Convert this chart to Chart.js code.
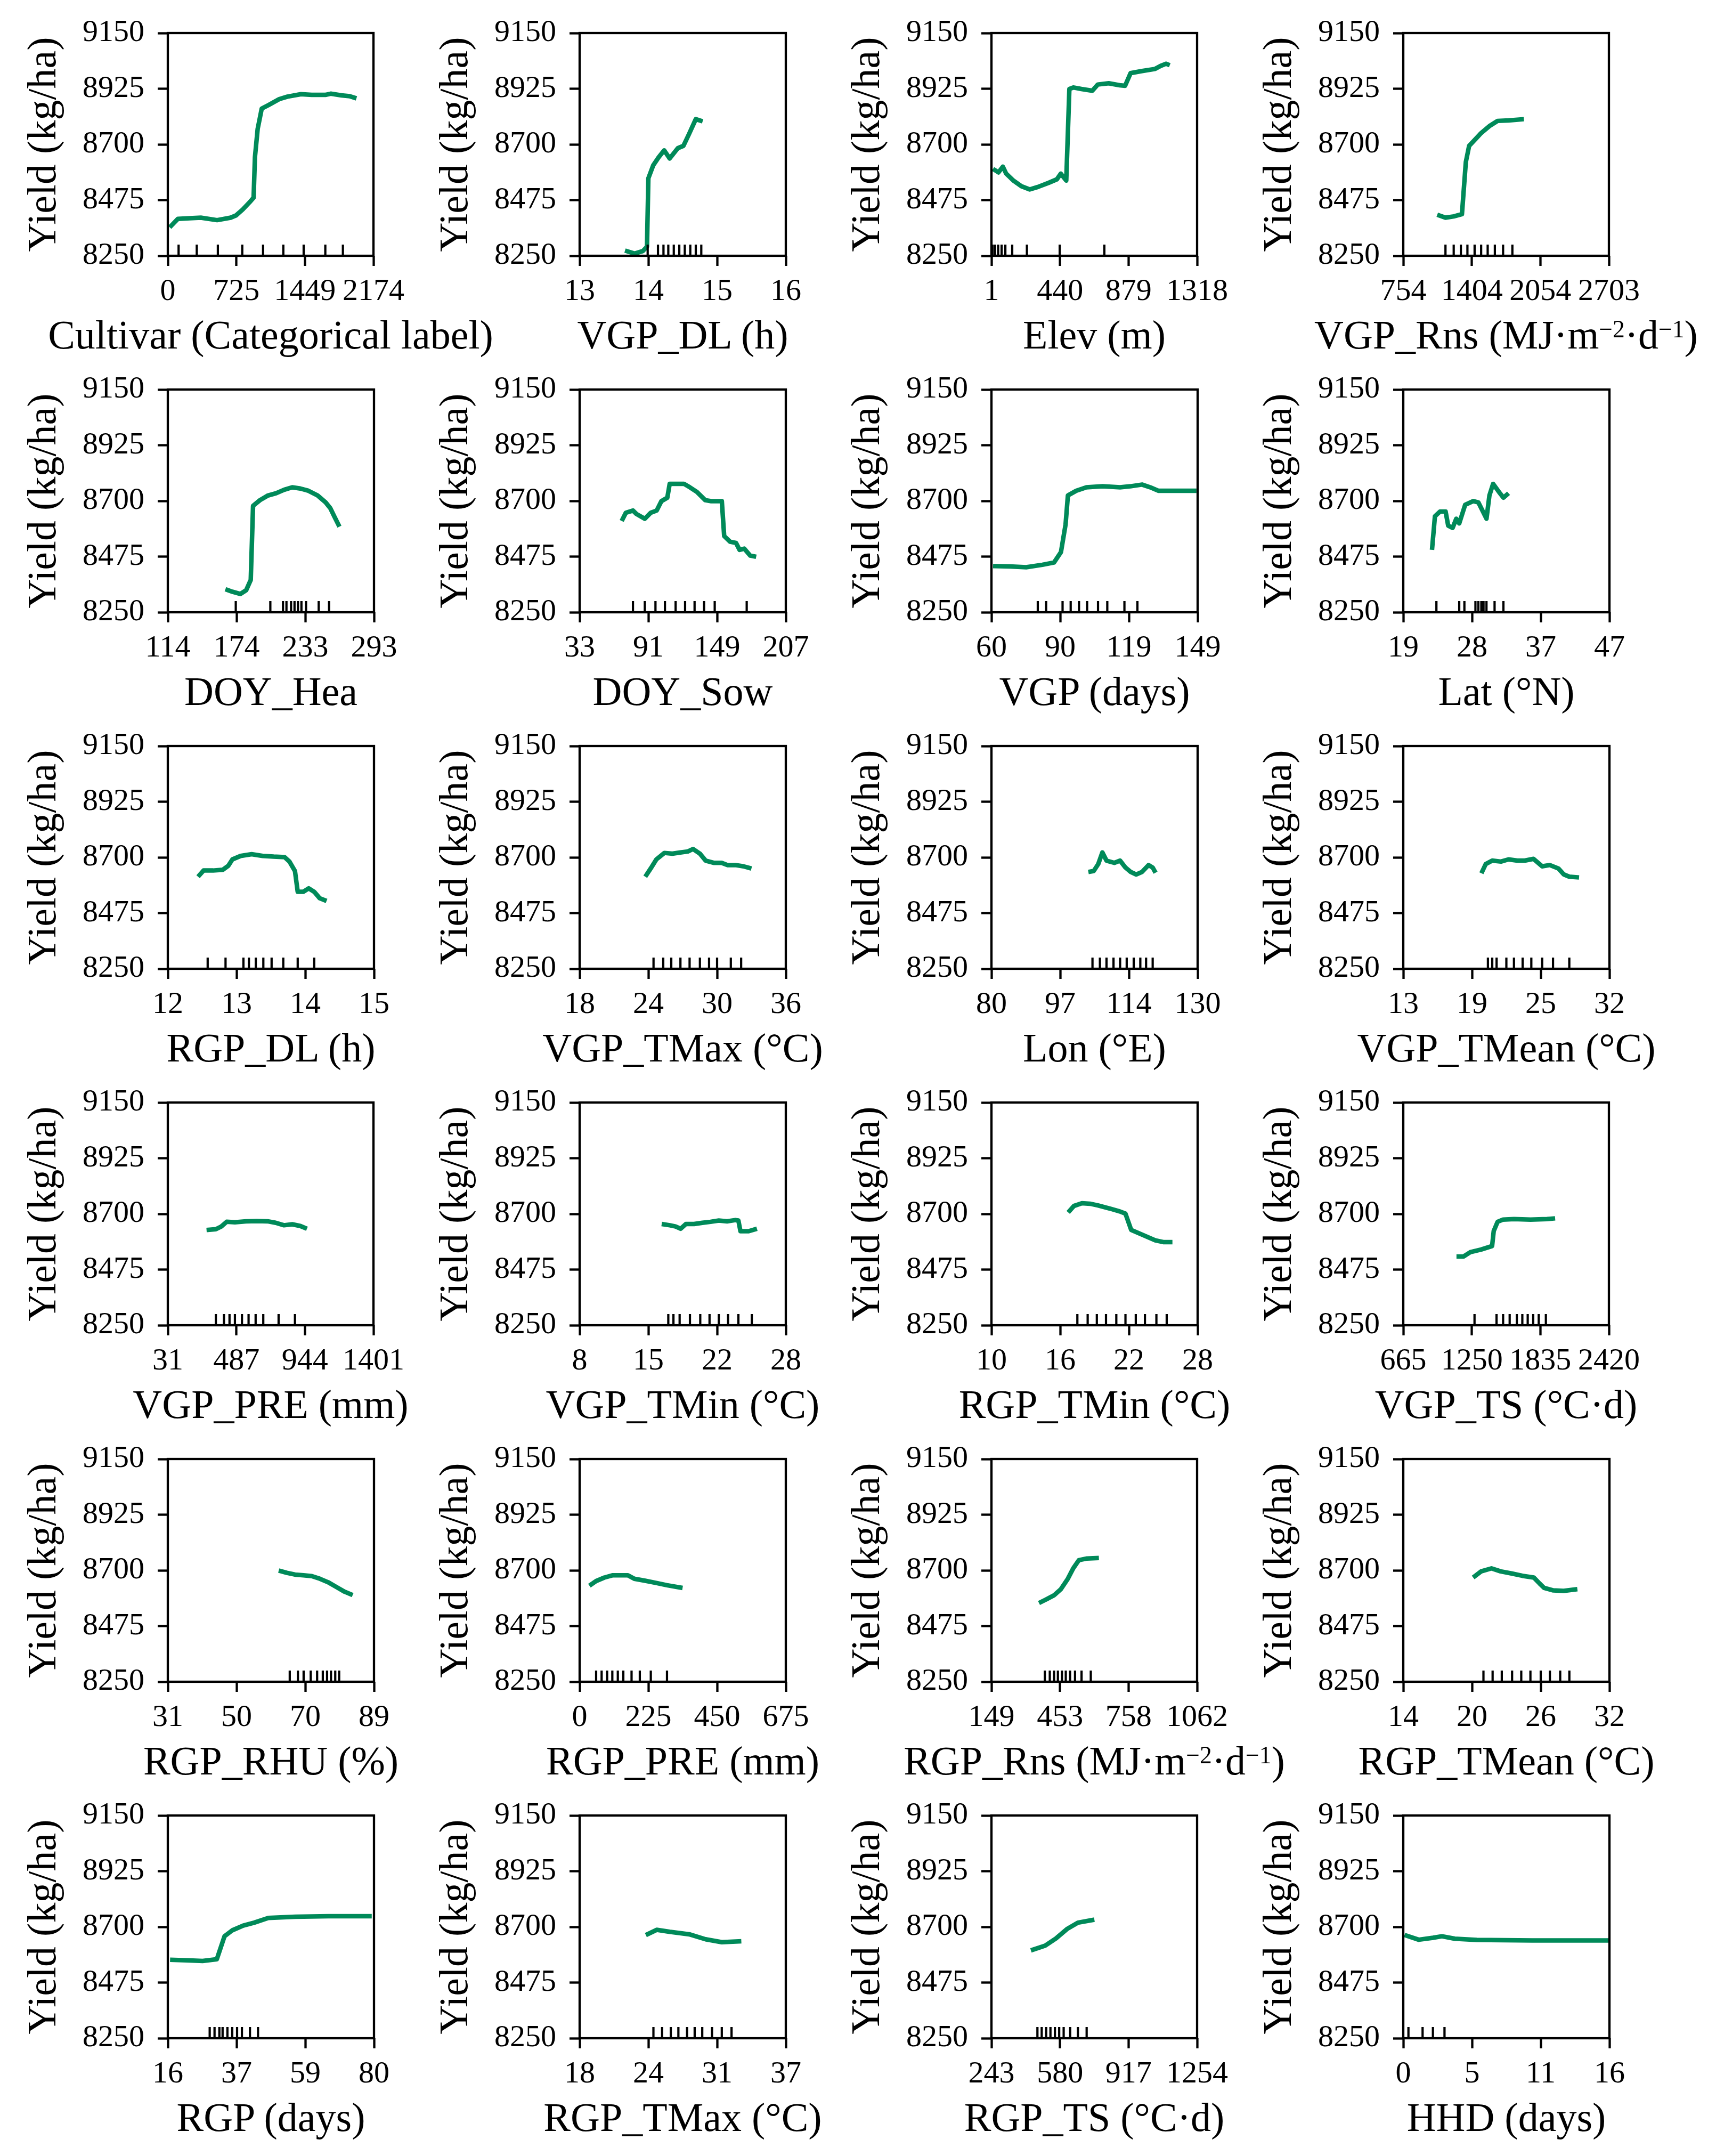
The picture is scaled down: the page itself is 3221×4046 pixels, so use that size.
<!DOCTYPE html>
<html>
<head>
<meta charset="utf-8">
<script src="https://cdn.jsdelivr.net/npm/chart.js@4.4.1/dist/chart.umd.min.js"></script>
<style>
  body { margin: 0; background: #fff; width: 3221px; height: 4046px; position: relative; overflow: hidden; font-family: 'Liberation Serif', serif; }
  canvas { position: absolute; }
  .xt { position: absolute; font-family: 'Liberation Serif', serif; font-size: 76px; line-height: 76px; white-space: nowrap; color: #000; transform: translateX(-50%); }
  .sp { position: relative; top: -0.45em; font-size: 0.6em; }
  #warm { position: absolute; left: -2000px; top: 0; font-family: 'Liberation Serif'; font-size: 58px; }
</style>
</head>
<body>
<div id="warm">0123456789 Yield (kg/ha)</div>
<script>
// partial dependence curves (x, yield in kg/ha) + decile rug + axis tick labels
var cultivarX = [20, 106, 235, 349, 521, 664, 721, 792, 864, 907, 921, 950, 993, 1064, 1178, 1264, 1407, 1521, 1665, 1722, 1837, 1922, 1994];
var cultivarY = [8365, 8399, 8402, 8404, 8394, 8404, 8413, 8437, 8466, 8485, 8648, 8763, 8845, 8859, 8883, 8893, 8903, 8900, 8900, 8905, 8898, 8895, 8886];
var cultivarRug = [114, 306, 529, 787, 1007, 1221, 1436, 1665, 1851];
var cultivarTicks = [0, 725, 1449, 2174];

var vgpDlX = [13.66, 13.80, 13.92, 13.98, 14.00, 14.07, 14.15, 14.23, 14.31, 14.43, 14.51, 14.59, 14.69, 14.79];
var vgpDlY = [8271, 8259, 8269, 8287, 8563, 8615, 8648, 8676, 8643, 8685, 8694, 8741, 8802, 8793];
var vgpDlRug = [13.99, 14.14, 14.22, 14.29, 14.37, 14.45, 14.53, 14.61, 14.69, 14.77];
var vgpDlTicks = [13, 14, 15, 16];

var elevX = [11, 46, 74, 95, 141, 193, 246, 298, 368, 420, 445, 480, 500, 525, 577, 647, 682, 752, 822, 857, 892, 961, 1049, 1084, 1119, 1143];
var elevY = [8601, 8587, 8610, 8582, 8554, 8531, 8518, 8528, 8545, 8559, 8582, 8554, 8924, 8930, 8924, 8917, 8942, 8947, 8939, 8937, 8988, 8996, 9005, 9017, 9026, 9020];
var elevRug = [8, 24, 44, 66, 90, 134, 228, 438, 724];
var elevTicks = [1, 440, 879, 1318];

var vgpRnsX = [1076, 1154, 1232, 1310, 1347, 1378, 1440, 1492, 1570, 1648, 1752, 1897];
var vgpRnsY = [8416, 8404, 8409, 8418, 8629, 8694, 8722, 8746, 8774, 8795, 8797, 8802];
var vgpRnsRug = [1154, 1232, 1300, 1362, 1430, 1492, 1554, 1622, 1700, 1788];
var vgpRnsTicks = [754, 1404, 2054, 2703];

var doyHeaX = [164, 170, 177, 182, 186, 188, 194, 201, 208, 215, 222, 229, 236, 244, 251, 255, 259, 263];
var doyHeaY = [8343, 8333, 8324, 8339, 8381, 8680, 8703, 8722, 8731, 8745, 8755, 8750, 8741, 8722, 8694, 8671, 8633, 8596];
var doyHeaRug = [173, 203, 214, 217, 221, 224, 227, 230, 234, 245, 254];
var doyHeaTicks = [114, 174, 233, 293];

var doySowX = [68.5, 72, 78, 81, 88, 93, 98, 102, 107, 109, 121, 126, 132, 139, 144, 153, 155, 160, 165, 168, 172, 177, 182];
var doySowY = [8619, 8652, 8661, 8647, 8628, 8652, 8661, 8699, 8713, 8769, 8769, 8755, 8736, 8703, 8699, 8699, 8558, 8535, 8530, 8502, 8507, 8479, 8474];
var doySowRug = [78, 88, 97, 105, 114, 122, 130, 138, 147, 174];
var doySowTicks = [33, 91, 149, 207];

var vgpX = [60.7, 68, 75, 82, 87, 90, 92, 93, 96.6, 101, 108, 115.5, 120, 125, 128.5, 132, 139, 148.5];
var vgpY = [8437, 8435, 8432, 8442, 8451, 8493, 8605, 8722, 8741, 8755, 8759, 8755, 8759, 8766, 8755, 8741, 8741, 8741];
var vgpRug = [80, 83.6, 90.7, 94.2, 97.8, 101.3, 106, 110, 117.4, 123];
var vgpTicks = [60, 90, 119, 149];

var latX = [22.9, 23.3, 24, 24.75, 25.1, 25.7, 26.2, 26.6, 27.4, 28.5, 29.2, 30.3, 30.7, 31.2, 32, 32.6, 33.3];
var latY = [8502, 8638, 8657, 8657, 8600, 8591, 8628, 8609, 8684, 8699, 8694, 8628, 8722, 8769, 8736, 8713, 8731];
var latRug = [23.5, 26.6, 27.3, 28.8, 29.2, 29.6, 29.9, 30.3, 31.4, 32.6];
var latTicks = [19, 28, 37, 47];

var rgpDlX = [12.44, 12.52, 12.66, 12.8, 12.88, 12.94, 13.06, 13.22, 13.38, 13.54, 13.7, 13.77, 13.85, 13.89, 13.97, 14.05, 14.13, 14.21, 14.31];
var rgpDlY = [8622, 8647, 8647, 8650, 8666, 8692, 8706, 8713, 8706, 8703, 8701, 8683, 8645, 8561, 8561, 8575, 8561, 8535, 8524];
var rgpDlRug = [12.58, 12.84, 13.1, 13.18, 13.28, 13.39, 13.51, 13.68, 13.89, 14.13];
var rgpDlTicks = [12, 13, 14, 15];

var vgpTmaxX = [23.73, 24.2, 24.7, 25.4, 26.1, 26.8, 27.45, 27.9, 28.5, 29, 29.7, 30.4, 30.9, 31.6, 32.3, 33.0];
var vgpTmaxY = [8622, 8655, 8692, 8718, 8715, 8720, 8724, 8734, 8715, 8687, 8678, 8678, 8669, 8669, 8664, 8655];
var vgpTmaxRug = [24.45, 25.3, 26.0, 26.8, 27.6, 28.5, 29.3, 30.0, 31.2, 32.1];
var vgpTmaxTicks = [18, 24, 30, 36];

var lonX = [103.5, 104.8, 105.9, 106.9, 107.9, 109.8, 111.2, 112.5, 113.8, 115.1, 116.5, 118.1, 119.1, 119.8];
var lonY = [8641, 8645, 8673, 8720, 8687, 8678, 8687, 8659, 8641, 8631, 8641, 8669, 8659, 8638];
var lonRug = [104.5, 106.3, 107.9, 109.6, 111.2, 112.8, 114.5, 116.1, 117.5, 119.1];
var lonTicks = [80, 97, 114, 130];

var vgpTmeanX = [20.2, 20.6, 21.2, 22.0, 22.7, 23.5, 24.2, 25.0, 25.8, 26.5, 27.3, 27.8, 28.3, 29.2];
var vgpTmeanY = [8636, 8673, 8687, 8683, 8692, 8687, 8687, 8694, 8664, 8669, 8655, 8631, 8622, 8619];
var vgpTmeanRug = [20.8, 21.2, 21.6, 22.5, 23.2, 24.0, 24.8, 25.8, 26.8, 28.3];
var vgpTmeanTicks = [13, 19, 25, 32];

var vgpPreX = [289, 351, 387, 423, 478, 551, 623, 696, 750, 805, 860, 914, 958];
var vgpPreY = [8635, 8638, 8649, 8668, 8666, 8670, 8671, 8670, 8664, 8654, 8658, 8651, 8640];
var vgpPreRug = [351, 405, 442, 478, 525, 569, 616, 667, 769, 878];
var vgpPreTicks = [31, 487, 944, 1401];

var vgpTminX = [15.96, 16.75, 17.3, 17.8, 18.3, 19.1, 19.9, 20.7, 21.5, 22.3, 23.1, 23.4, 23.6, 24.4, 25.2];
var vgpTminY = [8659, 8654, 8649, 8640, 8659, 8659, 8664, 8668, 8673, 8670, 8675, 8673, 8630, 8630, 8640];
var vgpTminRug = [16.6, 17.1, 17.7, 18.7, 19.7, 20.6, 21.5, 22.4, 23.4, 24.7];
var vgpTminTicks = [8, 15, 22, 28];

var rgpTminX = [16.7, 17.2, 17.9, 18.6, 19.3, 20.3, 21.2, 21.7, 22.2, 22.9, 23.6, 24.3, 25.0, 25.8];
var rgpTminY = [8706, 8732, 8743, 8741, 8734, 8722, 8710, 8701, 8635, 8621, 8607, 8593, 8586, 8586];
var rgpTminRug = [17.5, 18.4, 19.2, 20.0, 20.9, 21.7, 22.6, 23.4, 24.4, 25.3];
var rgpTminTicks = [10, 16, 22, 28];

var vgpTsX = [1119, 1180, 1236, 1330, 1423, 1437, 1470, 1517, 1610, 1751, 1891, 1961];
var vgpTsY = [8528, 8528, 8545, 8556, 8570, 8631, 8668, 8677, 8679, 8677, 8679, 8682];
var vgpTsRug = [1273, 1461, 1517, 1573, 1634, 1681, 1727, 1774, 1821, 1882];
var vgpTsTicks = [665, 1250, 1835, 2420];

var rgpRhuX = [62.2, 64.5, 66.8, 69.2, 71.5, 73.8, 76.1, 78.4, 80.7, 83.0];
var rgpRhuY = [8699, 8690, 8683, 8680, 8677, 8666, 8652, 8633, 8614, 8600];
var rgpRhuRug = [65.3, 67.6, 69.2, 71.2, 73.0, 74.6, 75.8, 76.9, 78.1, 79.2];
var rgpRhuTicks = [31, 50, 70, 89];

var rgpPreX = [32, 54, 81, 107, 134, 158, 179, 215, 251, 286, 337];
var rgpPreY = [8638, 8657, 8671, 8680, 8680, 8680, 8666, 8658, 8649, 8640, 8629];
var rgpPreRug = [54, 72, 90, 107, 125, 143, 170, 197, 233, 286];
var rgpPreTicks = [0, 225, 450, 675];

var rgpRnsX = [360, 391, 428, 457, 488, 512, 537, 573, 626];
var rgpRnsY = [8568, 8582, 8600, 8624, 8666, 8708, 8741, 8748, 8750];
var rgpRnsRug = [386, 408, 427, 444, 462, 479, 498, 520, 549, 590];
var rgpRnsTicks = [149, 453, 758, 1062];

var rgpTmeanX = [20.1, 20.8, 21.7, 22.5, 23.5, 24.4, 25.4, 25.9, 26.3, 27.1, 28.0, 29.2];
var rgpTmeanY = [8671, 8696, 8708, 8696, 8687, 8678, 8671, 8647, 8629, 8619, 8617, 8624];
var rgpTmeanRug = [21.0, 21.8, 22.6, 23.5, 24.3, 25.1, 26.0, 26.8, 27.7, 28.5];
var rgpTmeanTicks = [14, 20, 26, 32];

var rgpX = [16.7, 21.8, 26.8, 31.2, 33.6, 36, 39.4, 42.8, 47.2, 55.6, 65.8, 79.3];
var rgpY = [8567, 8565, 8562, 8569, 8662, 8686, 8705, 8717, 8736, 8741, 8743, 8743];
var rgpRug = [29, 30.5, 32, 33, 34.5, 36, 37.5, 39, 41.5, 44];
var rgpTicks = [16, 37, 59, 80];

var rgpTmaxX = [24.1, 25.1, 26.3, 28.1, 29.6, 31.1, 32.9];
var rgpTmaxY = [8667, 8688, 8680, 8670, 8650, 8638, 8642];
var rgpTmaxRug = [24.8, 25.6, 26.4, 27.1, 27.9, 28.6, 29.3, 30.2, 31.1, 32.0];
var rgpTmaxTicks = [18, 24, 31, 37];

var rgpTsX = [437, 507, 560, 614, 668, 749];
var rgpTsY = [8605, 8624, 8653, 8691, 8717, 8729];
var rgpTsRug = [469, 490, 512, 533, 555, 576, 598, 630, 668, 711];
var rgpTsTicks = [243, 580, 917, 1254];

var hhdX = [0.1, 1.2, 2.3, 3.0, 4.0, 5.7, 10, 16];
var hhdY = [8667, 8648, 8656, 8662, 8652, 8647, 8645, 8645];
var hhdRug = [0.4, 1.5, 2.3, 3.2];
var hhdTicks = [0, 5, 11, 16];

var yTicks = [8250, 8475, 8700, 8925, 9150];
var yTitle = 'Yield (kg/ha)';

var panels = [
  { title: 'Cultivar (Categorical label)', x: cultivarX, y: cultivarY, rug: cultivarRug, ticks: cultivarTicks },
  { title: 'VGP_DL (h)', x: vgpDlX, y: vgpDlY, rug: vgpDlRug, ticks: vgpDlTicks },
  { title: 'Elev (m)', x: elevX, y: elevY, rug: elevRug, ticks: elevTicks },
  { title: 'VGP_Rns (MJ·m<span class="sp">−2</span>·d<span class="sp">−1</span>)', x: vgpRnsX, y: vgpRnsY, rug: vgpRnsRug, ticks: vgpRnsTicks },
  { title: 'DOY_Hea', x: doyHeaX, y: doyHeaY, rug: doyHeaRug, ticks: doyHeaTicks },
  { title: 'DOY_Sow', x: doySowX, y: doySowY, rug: doySowRug, ticks: doySowTicks },
  { title: 'VGP (days)', x: vgpX, y: vgpY, rug: vgpRug, ticks: vgpTicks },
  { title: 'Lat (°N)', x: latX, y: latY, rug: latRug, ticks: latTicks },
  { title: 'RGP_DL (h)', x: rgpDlX, y: rgpDlY, rug: rgpDlRug, ticks: rgpDlTicks },
  { title: 'VGP_TMax (°C)', x: vgpTmaxX, y: vgpTmaxY, rug: vgpTmaxRug, ticks: vgpTmaxTicks },
  { title: 'Lon (°E)', x: lonX, y: lonY, rug: lonRug, ticks: lonTicks },
  { title: 'VGP_TMean (°C)', x: vgpTmeanX, y: vgpTmeanY, rug: vgpTmeanRug, ticks: vgpTmeanTicks },
  { title: 'VGP_PRE (mm)', x: vgpPreX, y: vgpPreY, rug: vgpPreRug, ticks: vgpPreTicks },
  { title: 'VGP_TMin (°C)', x: vgpTminX, y: vgpTminY, rug: vgpTminRug, ticks: vgpTminTicks },
  { title: 'RGP_TMin (°C)', x: rgpTminX, y: rgpTminY, rug: rgpTminRug, ticks: rgpTminTicks },
  { title: 'VGP_TS (°C·d)', x: vgpTsX, y: vgpTsY, rug: vgpTsRug, ticks: vgpTsTicks },
  { title: 'RGP_RHU (%)', x: rgpRhuX, y: rgpRhuY, rug: rgpRhuRug, ticks: rgpRhuTicks },
  { title: 'RGP_PRE (mm)', x: rgpPreX, y: rgpPreY, rug: rgpPreRug, ticks: rgpPreTicks },
  { title: 'RGP_Rns (MJ·m<span class="sp">−2</span>·d<span class="sp">−1</span>)', x: rgpRnsX, y: rgpRnsY, rug: rgpRnsRug, ticks: rgpRnsTicks },
  { title: 'RGP_TMean (°C)', x: rgpTmeanX, y: rgpTmeanY, rug: rgpTmeanRug, ticks: rgpTmeanTicks },
  { title: 'RGP (days)', x: rgpX, y: rgpY, rug: rgpRug, ticks: rgpTicks },
  { title: 'RGP_TMax (°C)', x: rgpTmaxX, y: rgpTmaxY, rug: rgpTmaxRug, ticks: rgpTmaxTicks },
  { title: 'RGP_TS (°C·d)', x: rgpTsX, y: rgpTsY, rug: rgpTsRug, ticks: rgpTsTicks },
  { title: 'HHD (days)', x: hhdX, y: hhdY, rug: hhdRug, ticks: hhdTicks }
];

// layout of one cell (px)
var CELL_W = 773, CELL_H = 669;
var Y_AXIS_W = 315, X_AXIS_H = 189, PAD_TOP = 62, PAD_RIGHT = 71;
var RUG_TOP = 8295;
var FONT = 'Liberation Serif';
var GREEN = '#008a59';

Chart.defaults.font.family = FONT;

// full frame round the plot, like matplotlib spines
var boxPlugin = {
  id: 'box',
  afterDatasetsDraw: function(chart) {
    var a = chart.chartArea, c = chart.ctx;
    c.save();
    c.strokeStyle = '#000';
    c.lineWidth = 4.3;
    c.strokeRect(a.left, a.top, a.right - a.left, a.bottom - a.top);
    c.restore();
  }
};

var charts = [];

panels.forEach(function(p, i) {
  var col = i % 4, row = Math.floor(i / 4);
  var cv = document.createElement('canvas');
  cv.width = CELL_W; cv.height = CELL_H;
  cv.style.width = CELL_W + 'px'; cv.style.height = CELL_H + 'px';
  cv.style.left = (col * CELL_W) + 'px';
  cv.style.top = (row * CELL_H) + 'px';
  document.body.appendChild(cv);

  var curve = p.x.map(function(v, k) { return { x: v, y: p.y[k] }; });
  var rug = [];
  p.rug.forEach(function(r) {
    rug.push({ x: r, y: yTicks[0] }, { x: r, y: RUG_TOP }, { x: r, y: null });
  });
  var t = p.ticks;

  var chart = new Chart(cv, {
    type: 'line',
    data: {
      datasets: [
        { data: rug, borderColor: '#000', borderWidth: 4.2, pointRadius: 0, spanGaps: false, tension: 0 },
        { data: curve, borderColor: GREEN, borderWidth: 8.5, pointRadius: 0, tension: 0, borderJoinStyle: 'round', borderCapStyle: 'butt' }
      ]
    },
    options: {
      responsive: false,
      animation: false,
      devicePixelRatio: 1,
      layout: { padding: { top: PAD_TOP, right: PAD_RIGHT, left: 0, bottom: 0 } },
      plugins: { legend: { display: false }, tooltip: { enabled: false } },
      scales: {
        x: {
          type: 'linear',
          min: t[0], max: t[3],
          afterBuildTicks: function(s) {
            s.ticks = [0, 1, 2, 3].map(function(k) { return { value: t[0] + k * (t[3] - t[0]) / 3 }; });
          },
          afterFit: function(s) { s.height = X_AXIS_H; },
          ticks: {
            autoSkip: false, maxRotation: 0, padding: 14, color: '#000',
            font: { family: FONT, size: 58 },
            callback: function(v, k) { return String(t[k]); }
          },
          grid: { drawOnChartArea: false, drawTicks: true, tickLength: 19, tickWidth: 4.3, tickColor: '#000' },
          border: { display: false }
        },
        y: {
          min: yTicks[0], max: yTicks[yTicks.length - 1],
          afterBuildTicks: function(s) {
            s.ticks = yTicks.map(function(v) { return { value: v }; });
          },
          afterFit: function(s) { s.width = Y_AXIS_W; },
          ticks: {
            padding: 25, color: '#000',
            font: { family: FONT, size: 58 },
            callback: function(v) { return String(v); }
          },
          grid: { drawOnChartArea: false, drawTicks: true, tickLength: 19, tickWidth: 4.3, tickColor: '#000' },
          border: { display: false },
          title: {
            display: true, text: yTitle, color: '#000',
            font: { family: FONT, size: 76, lineHeight: 1.2 },
            padding: { top: 38, bottom: 0 }
          }
        }
      }
    },
    plugins: [boxPlugin]
  });
  charts.push(chart);

  // x axis title as html text, centred on the plot area
  var a = chart.chartArea;
  var lab = document.createElement('div');
  lab.className = 'xt';
  lab.innerHTML = p.title;
  lab.style.left = (col * CELL_W + (a.left + a.right) / 2) + 'px';
  lab.style.top = (row * CELL_H + 590) + 'px';
  document.body.appendChild(lab);
});

// redraw once the serif face is surely available to the canvases
if (document.fonts && document.fonts.load) {
  Promise.all([
    document.fonts.load("58px 'Liberation Serif'"),
    document.fonts.load("76px 'Liberation Serif'")
  ]).then(function() {
    charts.forEach(function(c) { c.update('none'); });
  });
}
</script>
</body>
</html>
